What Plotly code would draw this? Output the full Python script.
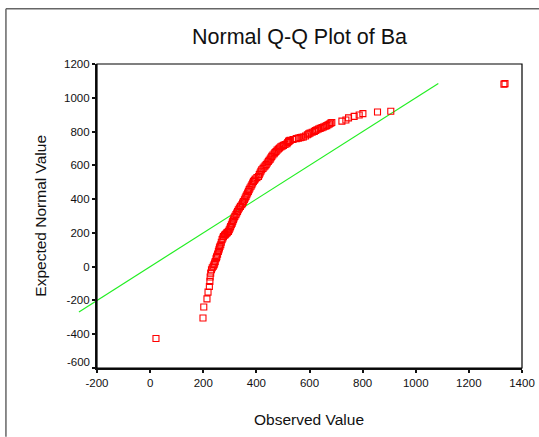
import plotly.graph_objects as go

# ---- data ----
OBSERVED = [22, 199, 202, 214, 218, 223, 225, 226, 228, 231, 234, 238, 241, 243, 245, 248, 250,
            251, 254, 257, 259, 261, 263, 266, 268, 271, 274, 276, 280, 283, 286, 289, 291, 295,
            298, 301, 303, 306, 309, 311, 314, 316, 319, 323, 326, 329, 332, 336, 340, 345, 348,
            351, 355, 358, 361, 364, 367, 370, 373, 376, 380, 383, 386, 389, 393, 396, 402, 408,
            411, 414, 417, 420, 425, 429, 433, 437, 441, 445, 448, 452, 455, 458, 462, 467, 470,
            474, 478, 483, 487, 492, 497, 502, 508, 515, 518, 521, 524, 527, 538, 550, 558, 565,
            571, 577, 585, 592, 597, 602, 610, 618, 623, 628, 634, 640, 647, 653, 659, 665, 670,
            675, 680, 684, 722, 737, 747, 768, 787, 801, 856, 906, 1332, 1336]
EXPECTED = [-425, -304, -239, -191, -151, -117, -87, -61, -38, -18, -6, 3, 12, 22, 31, 47, 54,
            61, 74, 90, 100, 111, 120, 130, 145, 160, 170, 179, 186, 190, 195, 200, 204, 209,
            219, 229, 238, 248, 258, 268, 278, 288, 298, 308, 318, 327, 337, 347, 357, 367, 376,
            386, 396, 407, 416, 426, 436, 446, 456, 466, 476, 485, 495, 505, 512, 519, 527, 534,
            545, 555, 565, 574, 582, 590, 597, 604, 614, 623, 630, 637, 645, 653, 661, 669, 676,
            682, 690, 697, 703, 709, 714, 718, 723, 728, 735, 742, 745, 748, 753, 758, 761, 764,
            766, 768, 774, 781, 786, 791, 796, 801, 806, 811, 815, 819, 823, 827, 831, 835, 840,
            845, 850, 854, 862, 868, 881, 890, 898, 906, 916, 920, 1081, 1084]
LINE_X = [-268, 1085]
LINE_Y = [-268, 1085]

X_RANGE = [-200, 1400]
Y_RANGE = [-600, 1200]
X_TICKS = [-200, 0, 200, 400, 600, 800, 1000, 1200, 1400]
Y_TICKS = [-600, -400, -200, 0, 200, 400, 600, 800, 1000, 1200]

TITLE = "Normal Q-Q Plot of Ba"
X_TITLE = "Observed Value"
Y_TITLE = "Expected Normal Value"

# ---- layout geometry ----
W, H = 539, 437
L, R, T, B = 97, 17.3, 64.3, 68.7
PW, PH = W - L - R, H - T - B
FONT = "Arial, 'Liberation Sans', sans-serif"


def px(xp):
    return (xp - L) / PW


def py(yp):
    return (H - B - yp) / PH


def dx(v):
    return (v - X_RANGE[0]) / (X_RANGE[1] - X_RANGE[0])


def dy(v):
    return (v - Y_RANGE[0]) / (Y_RANGE[1] - Y_RANGE[0])


fig = go.Figure()
fig.add_trace(go.Scatter(
    x=OBSERVED, y=EXPECTED, mode="markers",
    marker=dict(symbol="square-open", size=6, color="#ff0000", line=dict(width=1.1, color="#ff0000")),
    cliponaxis=False, showlegend=False, hoverinfo="x+y"))

shapes = [
    # reference line y = x (drawn in paper space so it can run past the axis like the original)
    dict(type="line", xref="paper", yref="paper",
         x0=dx(LINE_X[0]), y0=dy(LINE_Y[0]), x1=dx(LINE_X[1]), y1=dy(LINE_Y[1]),
         line=dict(color="#22ee22", width=1.2), layer="below"),
    # thin top/right frame of the plot area
    dict(type="rect", xref="paper", yref="paper", x0=0, y0=0, x1=1, y1=1,
         line=dict(color="#000000", width=1.2), layer="above"),
    # outer chart frame: top edge and left edge
    dict(type="line", xref="paper", yref="paper",
         x0=px(6), y0=py(9), x1=px(539), y1=py(9),
         line=dict(color="#666666", width=1.5)),
    dict(type="line", xref="paper", yref="paper",
         x0=px(6), y0=py(437), x1=px(6), y1=py(9),
         line=dict(color="#666666", width=1.5)),
]

ann = [
    dict(text=TITLE, x=px(299), y=py(37), xref="paper", yref="paper", showarrow=False,
         xanchor="center", yanchor="middle", font=dict(family=FONT, size=21.5, color="#111111")),
    dict(text=X_TITLE, x=px(309), y=py(420), xref="paper", yref="paper", showarrow=False,
         xanchor="center", yanchor="middle", font=dict(family=FONT, size=15.5, color="#111111")),
    dict(text=Y_TITLE, x=px(41), y=py(216), xref="paper", yref="paper", showarrow=False,
         textangle=-90, xanchor="center", yanchor="middle",
         font=dict(family=FONT, size=15.5, color="#111111")),
    dict(text=str(Y_TICKS[0]), x=px(92), y=py(362), xref="paper", yref="paper", showarrow=False,
         xanchor="right", yanchor="middle", font=dict(family=FONT, size=11.5, color="#111111")),
]

fig.update_layout(
    template="none",
    width=W, height=H, autosize=False, margin=dict(l=L, r=R, t=T, b=B, pad=0, autoexpand=False),
    paper_bgcolor="white", plot_bgcolor="white",
    shapes=shapes, annotations=ann, showlegend=False,
    font=dict(family=FONT, size=11.5, color="#111111"),
)
fig.update_xaxes(range=X_RANGE, tickvals=X_TICKS, ticktext=[str(v) for v in X_TICKS],
                 automargin=False,
                 showgrid=False, zeroline=False, showline=True, linecolor="#111111", linewidth=2.2,
                 ticks="outside", ticklen=3, tickwidth=2, tickcolor="#111111",
                 tickfont=dict(family=FONT, size=11.5, color="#111111"))
fig.update_yaxes(range=Y_RANGE, tickvals=Y_TICKS,
                 ticktext=[""] + [str(v) for v in Y_TICKS[1:]],
                 automargin=False,
                 showgrid=False, zeroline=False, showline=True, linecolor="#111111", linewidth=2.2,
                 ticks="outside", ticklen=3, tickwidth=2, tickcolor="#111111",
                 tickfont=dict(family=FONT, size=11.5, color="#111111"))

fig.write_html("out.html", config={"displayModeBar": False, "responsive": False},
               post_script="document.documentElement.style.overflow='hidden';"
                           "document.body.style.margin='0';document.body.style.overflow='hidden';")
